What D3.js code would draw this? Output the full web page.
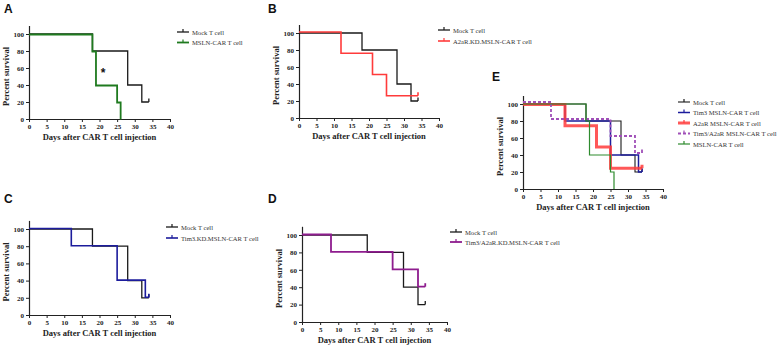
<!DOCTYPE html>
<html>
<head>
<meta charset="utf-8">
<title>Survival curves</title>
<style>
  body { margin: 0; background: #fff; }
  .tick text { font-family: "Liberation Serif", "DejaVu Serif", serif; font-weight: bold; font-size: 7px; fill: #222; }
  .ttl { font-family: "Liberation Serif", serif; font-weight: bold; font-size: 8.5px; fill: #222; }
  .leg { font-family: "Liberation Serif", serif; font-size: 6.6px; fill: #333; }
  .lab { font-family: "Liberation Sans", Arial, sans-serif; font-weight: bold; font-size: 12px; fill: #111; }
</style>
</head>
<body>
<script src="https://d3js.org/d3.v7.min.js"></script>
<script>
// x ticks (days) and y ticks (percent)
const dayTicks = [0, 5, 10, 15, 20, 25, 30, 35, 40];
const pctTicks = [0, 20, 40, 60, 80, 100];

// Kaplan-Meier steps: time of each drop and survival after it
const mockDays = [0, 18, 28, 32, 34];
const mockSurv = [100, 80, 40, 20, 20];
const mslnDays = [0, 18, 19, 25, 26];
const mslnSurv = [100, 80, 40, 20, 0];
const a2arDays = [0, 12, 21, 25, 34];
const a2arSurv = [100, 75, 50, 25, 25];
const tim3Days = [0, 12, 25, 33, 34];
const tim3Surv = [100, 80, 40, 20, 20];
const dualDays = [0, 8, 25, 32, 34];
const dualSurv = [100, 80, 60, 40, 40];

const names = {
  mock: "Mock T cell",
  msln: "MSLN-CAR T cell",
  a2arKD: "A2aR.KD.MSLN-CAR T cell",
  tim3KD: "Tim3.KD.MSLN-CAR T cell",
  dualKD: "Tim3/A2aR.KD.MSLN-CAR T cell",
  tim3: "Tim3 MSLN-CAR T cell",
  a2ar: "A2aR MSLN-CAR T cell",
  dual: "Tim3/A2aR MSLN-CAR T cell"
};

const W = 779, H = 347;
const svg = d3.select("body").append("svg").attr("width", W).attr("height", H);

function pts(days, surv) { return days.map((d, i) => [d, surv[i]]); }

function panel(p) {
  const x = d3.scaleLinear().domain([0, 40]).range([p.x0, p.x1]);
  const y = d3.scaleLinear().domain([0, 110]).range([p.y0, p.y0 - 110 * (p.y0 - p.y100) / 100]);
  const g = svg.append("g");

  g.append("text").attr("class", "lab").attr("x", p.lx).attr("y", p.ly).text(p.label);

  g.append("g").attr("transform", "translate(0," + p.y0 + ")")
    .call(d3.axisBottom(x).tickValues(dayTicks).tickSize(3).tickPadding(2).tickSizeOuter(0))
    .call(a => a.select(".domain").attr("stroke", "#222").attr("stroke-width", 1.2))
    .call(a => a.selectAll("line").attr("stroke", "#222"));
  g.append("g").attr("transform", "translate(" + p.x0 + ",0)")
    .call(d3.axisLeft(y).tickValues(pctTicks).tickSize(3).tickPadding(2).tickSizeOuter(0))
    .call(a => a.select(".domain").attr("stroke", "#222").attr("stroke-width", 1.2))
    .call(a => a.selectAll("line").attr("stroke", "#222"));

  g.append("text").attr("class", "ttl").attr("text-anchor", "middle")
    .attr("x", (p.x0 + p.x1) / 2).attr("y", p.y0 + 21).text("Days after CAR T cell injection");
  g.append("text").attr("class", "ttl").attr("text-anchor", "middle")
    .attr("transform", "translate(" + (p.x0 - 20) + "," + (p.y0 + p.y100) / 2 + ") rotate(-90)")
    .text("Percent survival");

  const line = d3.line().x(d => x(d[0])).y(d => y(d[1])).curve(d3.curveStepAfter);
  p.series.forEach(s => {
    const data = pts(s.days, s.surv);
    const sg = g.append("g").attr("transform", "translate(0," + (s.dy || 0) + ")");
    sg.append("path").attr("d", line(data)).attr("fill", "none")
      .attr("stroke", s.color).attr("stroke-width", s.w).attr("stroke-opacity", s.op || 1)
      .attr("stroke-dasharray", s.dash || null);
    const last = data[data.length - 1];
    if (last[1] > 0) {
      sg.append("line").attr("x1", x(last[0])).attr("x2", x(last[0]))
        .attr("y1", y(last[1])).attr("y2", y(last[1]) - 3.5)
        .attr("stroke", s.color).attr("stroke-width", s.w).attr("stroke-opacity", s.op || 1);
    }
  });

  p.series.forEach((s, i) => {
    const ly = p.legY + i * p.legGap;
    g.append("line").attr("x1", p.legX).attr("x2", p.legX + 12).attr("y1", ly).attr("y2", ly)
      .attr("stroke", s.color).attr("stroke-width", s.w).attr("stroke-opacity", s.op || 1)
      .attr("stroke-dasharray", s.dash || null);
    g.append("line").attr("x1", p.legX + 6).attr("x2", p.legX + 6).attr("y1", ly).attr("y2", ly - 3)
      .attr("stroke", s.color).attr("stroke-width", 1.2);
    g.append("text").attr("class", "leg").attr("x", p.legX + 15).attr("y", ly + 2.5).text(s.name);
  });
  return { x, y, g };
}

const black = "#1a1a1a", green = "#1f7a1f", red = "#ff3b3b", blue = "#1c1c9c", purple = "#8e1c8e";

const A = panel({
  label: "A", lx: 4, ly: 13, x0: 29, x1: 170, y0: 119, y100: 34,
  legX: 177, legY: 32, legGap: 10.5,
  series: [
    { name: names.mock, days: mockDays, surv: mockSurv, color: black, w: 1.3 },
    { name: names.msln, days: mslnDays, surv: mslnSurv, color: green, w: 1.8, dy: 0.5 }
  ]
});
A.g.append("text").attr("class", "lab").attr("text-anchor", "middle")
  .attr("x", A.x(21)).attr("y", A.y(50)).attr("font-size", "14px").text("*");

panel({
  label: "B", lx: 268, ly: 13, x0: 299, x1: 439, y0: 118, y100: 33,
  legX: 438, legY: 30, legGap: 11,
  series: [
    { name: names.mock, days: mockDays, surv: mockSurv, color: black, w: 1.3 },
    { name: names.a2arKD, days: a2arDays, surv: a2arSurv, color: red, w: 1.6, dy: -1 }
  ]
});

panel({
  label: "C", lx: 4, ly: 203, x0: 29, x1: 170, y0: 315, y100: 229,
  legX: 166, legY: 227, legGap: 11,
  series: [
    { name: names.mock, days: mockDays, surv: mockSurv, color: black, w: 1.3 },
    { name: names.tim3KD, days: tim3Days, surv: tim3Surv, color: blue, w: 1.6, dy: -0.5 }
  ]
});

panel({
  label: "D", lx: 268, ly: 203, x0: 302, x1: 447, y0: 322, y100: 235,
  legX: 450, legY: 232, legGap: 10,
  series: [
    { name: names.mock, days: mockDays, surv: mockSurv, color: black, w: 1.3 },
    { name: names.dualKD, days: dualDays, surv: dualSurv, color: purple, w: 1.8, dy: -0.5 }
  ]
});

panel({
  label: "E", lx: 492, ly: 81, x0: 523, x1: 663, y0: 189, y100: 104,
  legX: 678, legY: 102, legGap: 10.5,
  series: [
    { name: names.mock, days: mockDays, surv: mockSurv, color: black, w: 1.1 },
    { name: names.tim3, days: tim3Days, surv: tim3Surv, color: blue, w: 1.5 },
    { name: names.a2ar, days: a2arDays, surv: a2arSurv, color: red, w: 3, op: 0.85, dy: 0.5 },
    { name: names.dual, days: dualDays, surv: dualSurv, color: "#a050b8", w: 1.8, dash: "3,2", dy: -2 },
    { name: names.msln, days: mslnDays, surv: mslnSurv, color: "#2e8b2e", w: 1.2 }
  ]
});
</script>
</body>
</html>
